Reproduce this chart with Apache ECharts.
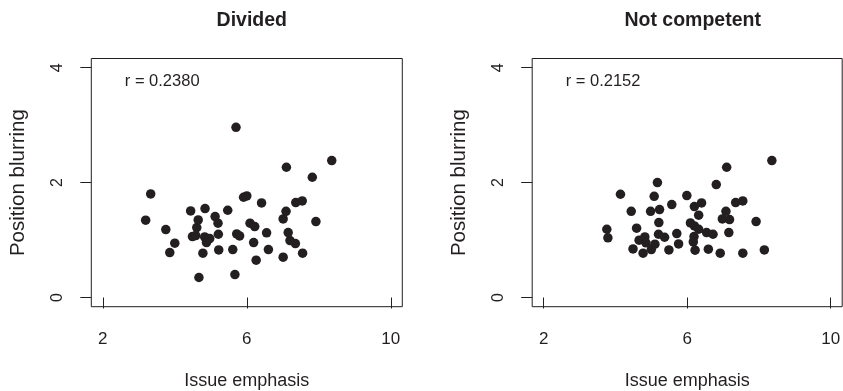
<!DOCTYPE html>
<html>
<head>
<meta charset="utf-8">
<script src="https://cdn.jsdelivr.net/npm/echarts@6/dist/echarts.min.js"></script>
<style>
  html, body { margin: 0; padding: 0; background: #fff; }
  #chart { width: 843px; height: 391px; }
</style>
</head>
<body>
<div id="chart"></div>
<script>
// Panel titles and correlation notes
const panelTitles = ['Divided', 'Not competent'];
const panelNotes = ['r = 0.2380', 'r = 0.2152'];

// Tick positions shared by both panels
const xTicks = [2, 6, 10];
const yTicks = [0, 2, 4];

// "Divided" panel: issue emphasis vs position blurring
const dividedX = [3.19, 3.33, 3.75, 3.86, 4.00, 4.44, 4.49, 4.58, 4.61, 4.65, 4.67, 4.78,
  4.84, 4.83, 4.97, 4.88, 5.12, 5.20, 5.21, 5.22, 5.47, 5.61, 5.67, 5.70, 5.72, 5.80,
  5.91, 6.00, 6.09, 6.19, 6.22, 6.26, 6.41, 6.55, 6.60, 7.01, 7.01, 7.09, 7.10, 7.15,
  7.20, 7.35, 7.36, 7.54, 7.55, 7.82, 7.92, 8.36];
const dividedY = [1.345, 1.803, 1.183, 0.783, 0.945, 1.507, 1.061, 1.078, 1.217, 1.351, 0.348, 0.771,
  1.548, 1.055, 1.026, 0.957, 1.409, 1.293, 1.101, 0.829, 1.519, 0.835, 0.400, 2.962, 1.107, 1.072,
  1.745, 1.768, 1.293, 0.957, 1.235, 0.649, 1.646, 1.125, 0.835, 1.368, 0.701, 1.501, 2.267, 1.130,
  0.991, 0.939, 1.652, 1.681, 0.771, 2.093, 1.322, 2.383];

// "Not competent" panel
const competentX = [3.76, 3.79, 4.14, 4.44, 4.49, 4.59, 4.66, 4.82, 4.85, 4.77, 4.98, 5.00,
  5.08, 5.10, 5.17, 5.23, 5.21, 5.20, 5.37, 5.49, 5.57, 5.71, 5.76, 5.99, 6.09, 6.20,
  6.20, 6.19, 6.17, 6.22, 6.32, 6.40, 6.32, 6.54, 6.59, 6.72, 6.81, 6.92, 6.98, 7.08,
  7.10, 7.16, 7.18, 7.35, 7.55, 7.55, 7.92, 8.15, 8.36];
const competentY = [1.188, 1.038, 1.797, 1.501, 0.846, 1.206, 0.997, 1.055, 0.951, 0.771, 1.501, 0.835,
  1.762, 0.928, 2.000, 1.530, 1.304, 1.101, 1.049, 0.829, 1.617, 1.113, 0.933, 1.774, 1.299, 1.583,
  1.246, 1.061, 0.968, 0.823, 1.432, 1.646, 1.188, 1.130, 0.841, 1.101, 1.965, 0.771, 1.368, 1.501,
  2.267, 1.130, 1.357, 1.652, 1.681, 0.771, 1.322, 0.829, 2.383];

const ink = '#231f20';
const font = 'Liberation Sans, Arial, Helvetica, sans-serif';
const pairs = (xs, ys) => xs.map((x, i) => [x, ys[i]]);

const grids = [
  { left: 91.3, top: 58.5, width: 311, height: 248.2 },
  { left: 532.2, top: 58.5, width: 310, height: 248.2 }
];

const chart = echarts.init(document.getElementById('chart'), null, { renderer: 'canvas' });

function xAxisFor(idx) {
  return {
    type: 'value', gridIndex: idx, min: 1.68, max: 10.32,
    name: 'Issue emphasis', nameLocation: 'middle', nameGap: 65,
    nameTextStyle: { fontFamily: font, fontSize: 18, color: ink },
    axisLine: { show: false },
    splitLine: { show: false },
    axisTick: { show: true, length: 11, customValues: xTicks, lineStyle: { color: ink, width: 1 } },
    axisLabel: { customValues: xTicks, margin: 24, fontFamily: font, fontSize: 17, color: ink }
  };
}

function yAxisFor(idx) {
  return {
    type: 'value', gridIndex: idx, min: -0.16, max: 4.16,
    name: 'Position blurring', nameLocation: 'middle', nameGap: 62,
    nameTextStyle: { fontFamily: font, fontSize: 20.5, color: ink },
    axisLine: { show: false },
    splitLine: { show: false },
    axisTick: { show: true, length: 11, customValues: yTicks, lineStyle: { color: ink, width: 1 } },
    axisLabel: { customValues: yTicks, rotate: 90, margin: 26, fontFamily: font, fontSize: 16, color: ink }
  };
}

const option = {
  animation: false,
  backgroundColor: '#fff',
  title: panelTitles.map((t, i) => ({
    text: t,
    left: grids[i].left + 155.5,
    top: 6,
    textAlign: 'center',
    textStyle: { fontFamily: font, fontSize: 19.5, fontWeight: 'bold', color: ink }
  })),
  grid: grids.map(g => Object.assign({
    show: true, borderColor: ink, borderWidth: 1, backgroundColor: 'transparent',
    containLabel: false, outerBoundsMode: 'none'
  }, g)),
  xAxis: [xAxisFor(0), xAxisFor(1)],
  yAxis: [yAxisFor(0), yAxisFor(1)],
  graphic: panelNotes.map((t, i) => ({
    type: 'text',
    left: grids[i].left + 33.5,
    top: 73,
    style: { text: t, fontFamily: font, fontSize: 16.5, fill: ink }
  })),
  series: [
    { type: 'scatter', xAxisIndex: 0, yAxisIndex: 0, data: pairs(dividedX, dividedY),
      symbol: 'circle', symbolSize: 9.5, itemStyle: { color: ink, opacity: 1 } },
    { type: 'scatter', xAxisIndex: 1, yAxisIndex: 1, data: pairs(competentX, competentY),
      symbol: 'circle', symbolSize: 9.5, itemStyle: { color: ink, opacity: 1 } }
  ]
};

chart.setOption(option);
</script>
</body>
</html>
